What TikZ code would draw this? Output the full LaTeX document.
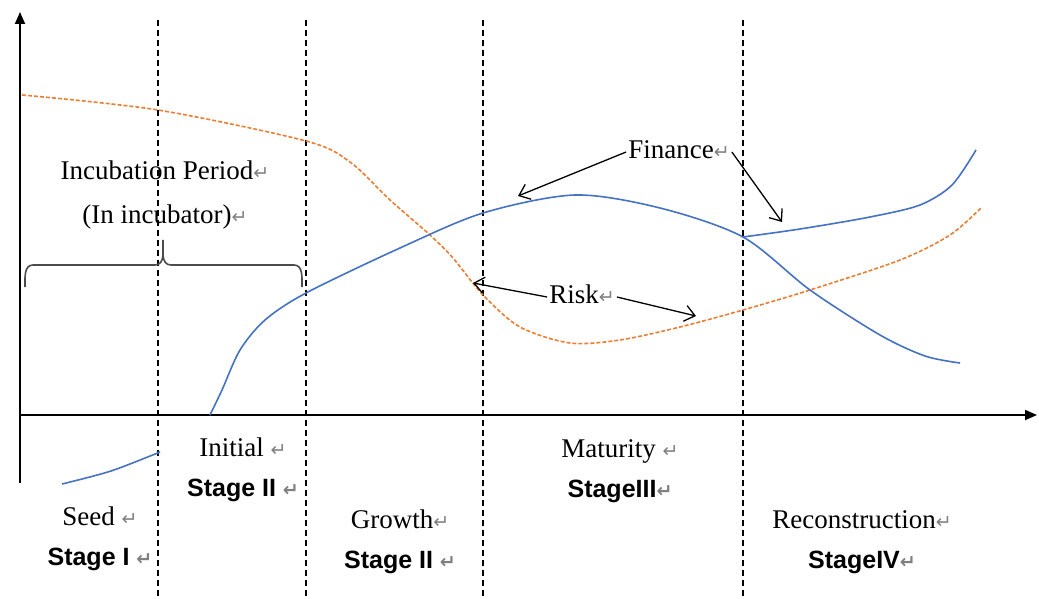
\documentclass[tikz,border=0pt]{standalone}
\usepackage{fontspec}
\setmainfont{Liberation Serif}
\newfontfamily\stagefont{Liberation Sans}
\newfontfamily\retfont{DejaVu Sans}
\usetikzlibrary{arrows.meta}
\usetikzlibrary{positioning}
\definecolor{financeblue}{RGB}{68,114,196}
\definecolor{riskorange}{RGB}{237,125,49}
\newcommand{\retmark}{{\retfont\fontsize{19}{19}\selectfont\color{gray}↵}}
\tikzset{label node/.style={inner sep=2pt, text height=18pt, text depth=6pt,
    font=\fontsize{27}{30}\selectfont},
  stage node/.style={label node, font=\stagefont\bfseries\fontsize{25}{30}\selectfont},
  period line/.style={dash pattern=on 6pt off 4pt, line width=1.4pt},
  axis line/.style={line width=1.8pt, -{Triangle[length=12pt,width=10pt]}},
  finance curve/.style={draw=financeblue, line width=1.6pt},
  risk curve/.style={draw=riskorange, line width=1.6pt, dash pattern=on 4pt off 2pt},
  brace line/.style={draw=black!70, line width=1.6pt},
  callout/.style={line width=1.3pt, -{Straight Barb[length=10pt,width=16pt]}}}

\begin{document}
\begin{tikzpicture}[x=1pt, y=-1pt]
    \useasboundingbox (0,0) rectangle (1039,599);

    % stage borders
    \foreach \px in {158,306,483,743}
        \draw[period line] (\px,20) -- (\px,599);

    % axes
    \coordinate (ybot) at (20,483);
    \coordinate (ytop) at (20,12);
    \coordinate (origin) at (19,415);
    \coordinate (xend) at (1037,415);
    \draw[axis line] (ybot) -- (ytop);
    \draw[axis line] (origin) -- (xend);

    % risk
    \draw[risk curve] plot[smooth] coordinates {(22,95) (158,110) (306,141)
        (350,162) (390,200) (430,235) (453,258) (483,295) (520,327) (570,343)
        (620,340) (680,327) (743,310) (810,290) (900,260) (950,235) (982,207)};

    % finance
    \draw[finance curve] plot[smooth] coordinates {(210,415) (222,390) (240,350)
        (265,320) (306,293) (400,248) (483,213) (575,195) (660,208) (743,237)
        (810,290) (880,335) (925,356) (960,363)};
    \draw[finance curve] plot[smooth] coordinates {(743,237) (800,229) (870,217)
        (920,205) (952,185) (976,150)};
    \draw[finance curve] plot[smooth] coordinates {(62,484) (111,471) (160,452)};

    % incubation brace
    \draw[brace line] (25,287) to[out=90,in=180] (33,265) -- (155,265)
        to[out=0,in=-90] (163,240) to[out=-90,in=180] (171,265) -- (294,265)
        to[out=0,in=90] (302,287);
    \node[label node] (incub) at (165,173) {Incubation Period\retmark};
    \node[label node] (incubin) [below=16pt of incub] {(In incubator)\retmark};

    % stages
    \node[label node] (seed) at (100,519) {Seed \retmark};
    \node[stage node] (seedst) [below=12pt of seed] {Stage I \retmark};
    \node[label node] (initial) at (243,450) {Initial \retmark};
    \node[stage node] (initialst) [below=12pt of initial] {Stage II \retmark};
    \node[label node] (growth) at (400,522) {Growth\retmark};
    \node[stage node] (growthst) [below=12pt of growth] {Stage II \retmark};
    \node[label node] (maturity) at (620,451) {Maturity \retmark};
    \node[stage node] (maturityst) [below=12pt of maturity] {StageIII\retmark};
    \node[label node] (recon) at (862,522) {Reconstruction\retmark};
    \node[stage node] (reconst) [below=12pt of recon] {StageIV\retmark};

    % callouts
    \node[label node] (finance) at (679,152) {Finance\retmark};
    \node[label node] (risk) at (582,297) {Risk\retmark};
    \coordinate (fintip1) at (518,196);
    \coordinate (fintip2) at (782,222);
    \coordinate (risktip1) at (473,283);
    \coordinate (risktip2) at (696,316);
    \draw[callout] (finance.west) -- (fintip1);
    \draw[callout] (finance.east) -- (fintip2);
    \draw[callout] (risk.west) -- (risktip1);
    \draw[callout] (risk.east) -- (risktip2);
\end{tikzpicture}
\end{document}
